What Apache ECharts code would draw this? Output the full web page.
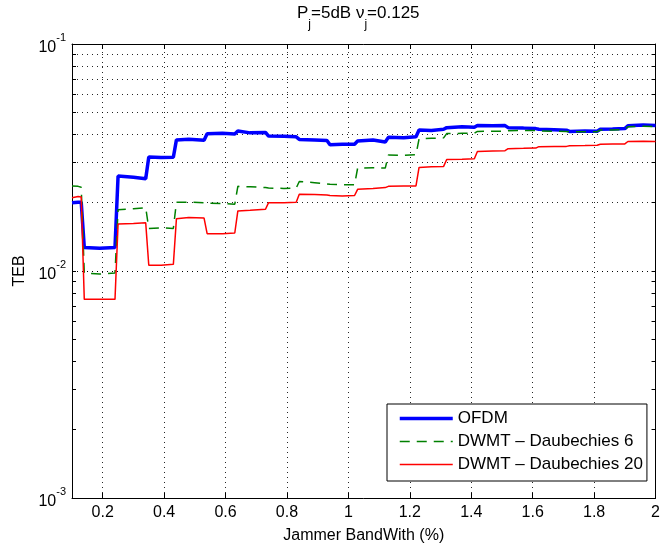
<!DOCTYPE html>
<html><head><meta charset="utf-8">
<script src="https://cdn.jsdelivr.net/npm/echarts@6/dist/echarts.min.js"></script>
<style>html,body{margin:0;padding:0;background:#fff}#c{width:663px;height:549px}</style>
</head><body><div id="c"></div>
<script>
// Jammer bandwidth (%) sample positions
const bandwidth = [
  0.10, 0.12, 0.13, 0.14, 0.19, 0.24, 0.25, 0.30, 0.34, 0.35, 0.39, 0.43,
  0.44, 0.48, 0.53, 0.54, 0.59, 0.63, 0.64, 0.68, 0.73, 0.74, 0.79, 0.83,
  0.84, 0.89, 0.93, 0.94, 0.98, 1.02, 1.03, 1.08, 1.12, 1.13, 1.18, 1.22,
  1.23, 1.27, 1.31, 1.32, 1.37, 1.41, 1.42, 1.47, 1.51, 1.52, 1.57, 1.61,
  1.62, 1.67, 1.71, 1.72, 1.77, 1.81, 1.82, 1.86, 1.90, 1.91, 1.96, 2.00
];
const ofdm = [
  0.0200, 0.0201, 0.0201, 0.0127, 0.0126, 0.0127, 0.0262, 0.0259, 0.0255, 0.0318, 0.0316, 0.0317,
  0.0378, 0.0381, 0.0377, 0.0402, 0.0404, 0.0401, 0.0414, 0.0406, 0.0408, 0.0393, 0.0392, 0.0390,
  0.0380, 0.0378, 0.0376, 0.0360, 0.0362, 0.0362, 0.0374, 0.0378, 0.0370, 0.0388, 0.0386, 0.0390,
  0.0418, 0.0416, 0.0421, 0.0428, 0.0432, 0.0430, 0.0438, 0.0436, 0.0437, 0.0428, 0.0426, 0.0424,
  0.0421, 0.0419, 0.0417, 0.0412, 0.0414, 0.0413, 0.0421, 0.0422, 0.0424, 0.0436, 0.0440, 0.0438
];
const daub6 = [
  0.0237, 0.0236, 0.0234, 0.0098, 0.0097, 0.0098, 0.0186, 0.0188, 0.0190, 0.0154, 0.0155, 0.0154,
  0.0201, 0.0201, 0.0200, 0.0199, 0.0198, 0.0197, 0.0236, 0.0235, 0.0233, 0.0232, 0.0231, 0.0232,
  0.0248, 0.0245, 0.0242, 0.0241, 0.0240, 0.0240, 0.0284, 0.0285, 0.0284, 0.0324, 0.0323, 0.0325,
  0.0382, 0.0384, 0.0386, 0.0403, 0.0404, 0.0404, 0.0412, 0.0413, 0.0413, 0.0415, 0.0416, 0.0416,
  0.0414, 0.0413, 0.0412, 0.0410, 0.0411, 0.0411, 0.0418, 0.0418, 0.0420, 0.0432, 0.0434, 0.0433
];
const daub20 = [
  0.0210, 0.0213, 0.0212, 0.0075, 0.0075, 0.0075, 0.0161, 0.0162, 0.0163, 0.0106, 0.0106, 0.0107,
  0.0170, 0.0172, 0.0171, 0.0146, 0.0146, 0.0147, 0.0184, 0.0185, 0.0187, 0.0200, 0.0200, 0.0201,
  0.0218, 0.0217, 0.0216, 0.0215, 0.0214, 0.0215, 0.0229, 0.0231, 0.0233, 0.0236, 0.0237, 0.0237,
  0.0286, 0.0288, 0.0289, 0.0310, 0.0311, 0.0312, 0.0336, 0.0338, 0.0339, 0.0346, 0.0347, 0.0348,
  0.0353, 0.0354, 0.0354, 0.0356, 0.0357, 0.0358, 0.0362, 0.0363, 0.0363, 0.0372, 0.0373, 0.0372
];
const seriesNames = ['OFDM', 'DWMT \u2013 Daubechies 6', 'DWMT \u2013 Daubechies 20'];
const xTickValues = [0.2, 0.4, 0.6, 0.8, 1.0, 1.2, 1.4, 1.6, 1.8, 2.0];
const xGridValues = [0.2, 0.4, 0.6, 0.8, 1.0, 1.2, 1.4, 1.6, 1.8];
const yLabelValues = [0.001, 0.01, 0.1];
const yTickValues = [0.001, 0.002, 0.003, 0.004, 0.005, 0.006, 0.007, 0.008, 0.009,
  0.01, 0.02, 0.03, 0.04, 0.05, 0.06, 0.07, 0.08, 0.09, 0.1];
const yGridValues = [0.002, 0.003, 0.004, 0.005, 0.006, 0.007, 0.008, 0.009,
  0.01, 0.02, 0.03, 0.04, 0.05, 0.06, 0.07, 0.08, 0.09];

const FONT = "'Liberation Sans', Arial, Helvetica, sans-serif";
const chart = echarts.init(document.getElementById('c'), null, {renderer: 'canvas'});

const pairs = arr => bandwidth.map((x, i) => [x, arr[i]]);
const gridStyle = {color: '#000', width: 1, type: [1, 4], opacity: 0.85};

const option = {
  backgroundColor: '#fff',
  animation: false,
  textStyle: {fontFamily: FONT, color: '#000'},
  title: {
    text: '{n|P}{s|j}{n|=5dB \u03bd}{s|j}{n|=0.125}',
    left: 292, top: 0,
    textStyle: {
      fontWeight: 'normal',
      rich: {
        n: {fontFamily: FONT, fontSize: 17, fontWeight: 'normal', color: '#000', lineHeight: 26, verticalAlign: 'top'},
        s: {fontFamily: FONT, fontSize: 12, fontWeight: 'normal', color: '#000', lineHeight: 26, verticalAlign: 'bottom'}
      }
    }
  },
  grid: {left: 72, right: 6, top: 44, bottom: 48, containLabel: false},
  legend: {
    orient: 'vertical', left: 387, top: 404,
    data: [
      {name: seriesNames[0], lineStyle: {width: 3.5}},
      {name: seriesNames[1], lineStyle: {width: 1.5}},
      {name: seriesNames[2], lineStyle: {width: 1.5}}
    ],
    itemWidth: 53, itemHeight: 17, itemGap: 6,
    padding: [6, 4, 8, 11],
    borderColor: '#000', borderWidth: 1, backgroundColor: '#fff',
    itemStyle: {opacity: 0},
    textStyle: {fontFamily: FONT, fontSize: 17, color: '#000'},
    selectedMode: false
  },
  xAxis: [{
    type: 'value', min: 0.1, max: 2, position: 'bottom',
    name: 'Jammer BandWith (%)', nameLocation: 'middle', nameGap: 30,
    nameTextStyle: {fontFamily: FONT, fontSize: 16, color: '#000'},
    axisLine: {show: true, onZero: false, lineStyle: {color: '#000', width: 1}},
    axisTick: {show: true, inside: true, length: 5, customValues: xTickValues, lineStyle: {color: '#000'}},
    axisLabel: {show: true, customValues: xTickValues, margin: 7, fontFamily: FONT, fontSize: 16, color: '#000',
      formatter: v => String(Math.round(v * 10) / 10)},
    splitLine: {show: false}
  }, {
    type: 'value', min: 0.1, max: 2, position: 'top',
    axisLine: {show: true, onZero: false, lineStyle: {color: '#000', width: 1}},
    axisTick: {show: true, inside: true, length: 5, customValues: xTickValues, lineStyle: {color: '#000'}},
    axisLabel: {show: false},
    splitLine: {show: false}
  }],
  yAxis: [{
    type: 'log', logBase: 10, min: 0.001, max: 0.1, position: 'left',
    name: 'TEB', nameLocation: 'middle', nameGap: 42, nameRotate: 90,
    nameTextStyle: {fontFamily: FONT, fontSize: 16, color: '#000'},
    axisLine: {show: true, onZero: false, lineStyle: {color: '#000', width: 1}},
    axisTick: {show: true, inside: true, length: 4, customValues: yTickValues, lineStyle: {color: '#000'}},
    axisLabel: {
      show: true, customValues: yLabelValues, margin: 6,
      formatter: v => '{b|10}{sup|' + Math.round(Math.log10(v)) + '}',
      rich: {
        b: {fontFamily: FONT, fontSize: 16, color: '#000', lineHeight: 24, verticalAlign: 'bottom'},
        sup: {fontFamily: FONT, fontSize: 11, color: '#000', lineHeight: 24, verticalAlign: 'top'}
      }
    },
    splitLine: {show: false}
  }, {
    type: 'log', logBase: 10, min: 0.001, max: 0.1, position: 'right',
    axisLine: {show: true, onZero: false, lineStyle: {color: '#000', width: 1}},
    axisTick: {show: true, inside: true, length: 4, customValues: yTickValues, lineStyle: {color: '#000'}},
    axisLabel: {show: false},
    splitLine: {show: false}
  }],
  series: [{
    name: seriesNames[0], type: 'line', xAxisIndex: 0, yAxisIndex: 0,
    data: pairs(ofdm), symbol: 'none', showSymbol: false, z: 3,
    lineStyle: {color: '#0000ff', width: 3.5},
    itemStyle: {color: '#0000ff'},
    markLine: {
      silent: true, symbol: 'none', z: 1, animation: false,
      label: {show: false},
      lineStyle: gridStyle,
      emphasis: {disabled: true},
      data: xGridValues.map(v => ({xAxis: v})).concat(yGridValues.map(v => ({yAxis: v})))
    }
  }, {
    name: seriesNames[1], type: 'line', xAxisIndex: 0, yAxisIndex: 0,
    data: pairs(daub6), symbol: 'none', showSymbol: false, z: 4,
    lineStyle: {color: '#008000', width: 1.5, type: [10, 7]},
    itemStyle: {color: '#008000'}
  }, {
    name: seriesNames[2], type: 'line', xAxisIndex: 0, yAxisIndex: 0,
    data: pairs(daub20), symbol: 'none', showSymbol: false, z: 5,
    lineStyle: {color: '#ff0000', width: 1.5},
    itemStyle: {color: '#ff0000'}
  }]
};
chart.setOption(option);
</script>
</body></html>
